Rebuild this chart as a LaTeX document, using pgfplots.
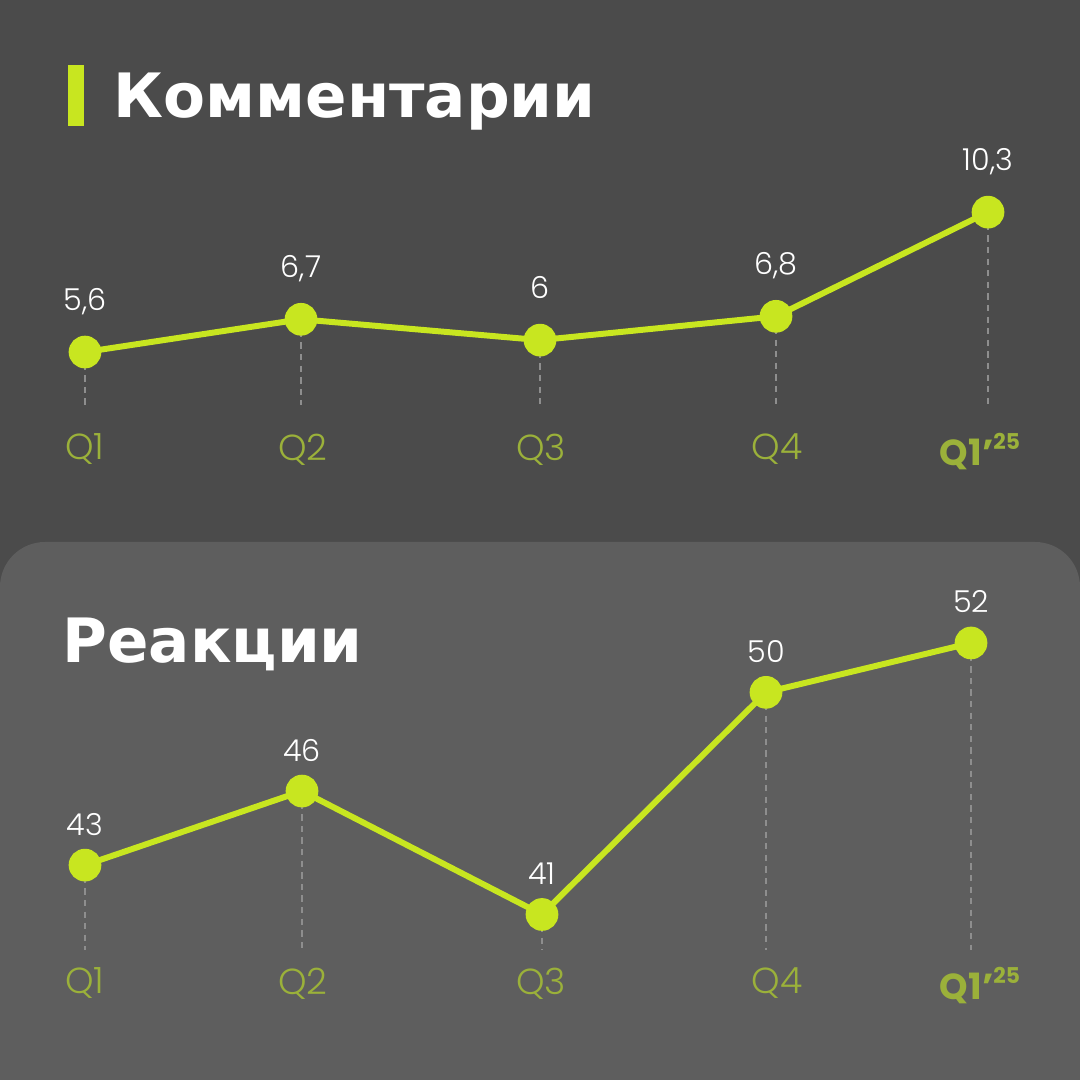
\documentclass[border=0pt]{standalone}
\usepackage{fontspec}
\setmainfont{DejaVu Sans}
\newfontfamily\titlefont{DejaVu Sans}
\newfontfamily\lightfont{Poppins Light}
\newfontfamily\boldq{Poppins Bold}
\usepackage{pgfplots}
\pgfplotsset{compat=1.18}

\definecolor{bgtop}{HTML}{4B4B4B}
\definecolor{panel}{HTML}{5E5E5E}
\definecolor{lime}{HTML}{C8E620}
\definecolor{olive}{HTML}{9BB13A}
\definecolor{dashgray}{HTML}{8E8E8E}

\pgfplotsset{
  qchart/.style={
    scale only axis, width=10.8cm, xmin=0, xmax=1080, clip=false,
    axis line style={draw=none}, tick style={draw=none},
    ytick=\empty,
    xtick={85,303,541,777,980},
    xticklabels={Q1,Q2,Q3,Q4,{\boldq Q1’\raisebox{0.42em}{\fontsize{6.2}{7}\selectfont 25}}},
    xticklabel style={font=\lightfont\fontsize{10.3}{12}\selectfont, text=olive,
      anchor=north, inner sep=0pt, yshift=-0.08cm},
    /pgf/number format/assume math mode=true,
    /pgf/number format/use comma,
  },
  qline/.style={lime, line width=1.7pt, mark=*, mark size=3.8pt,
    mark options={fill=lime, draw=lime},
    nodes near coords, every node near coord/.append style={
      font=\lightfont\fontsize{8.6}{10}\selectfont, text=white,
      anchor=base, inner sep=0pt}},
  qdash/.style={draw=dashgray, line width=0.4pt, dash pattern=on 1.8pt off 1.5pt, forget plot},
}

\begin{document}
\begin{tikzpicture}
\useasboundingbox (0,0) rectangle (10.8,10.8);
\fill[bgtop] (0,0) rectangle (10.8,10.8);
\fill[panel, rounded corners=0.45cm] (0,-1) rectangle (10.8,5.38);
\fill[lime] (0.68,9.54) rectangle (0.84,10.15);
\node[anchor=base west, inner sep=0, text=white,
  font=\titlefont\bfseries\fontsize{17.4}{20}\selectfont] at (1.13,9.62) {Комментарии};
\node[anchor=base west, inner sep=0, text=white,
  font=\titlefont\bfseries\fontsize{17.4}{20}\selectfont] at (0.62,4.17) {Реакции};

% Комментарии
\begin{axis}[qchart, at={(0,6.55cm)}, anchor=south west, height=2.75cm,
  ymin=3.149, ymax=12.389]
\addplot[qdash] coordinates {(85,5.6) (85,3.82)};
\addplot[qdash] coordinates {(301,6.7) (301,3.82)};
\addplot[qdash] coordinates {(540,6) (540,3.82)};
\addplot[qdash] coordinates {(776,6.8) (776,3.82)};
\addplot[qdash] coordinates {(988,10.3) (988,3.82)};
\addplot[qline, every node near coord/.append style={yshift=0.42cm}]
  coordinates {(85,5.6) (301,6.7) (540,6) (776,6.8) (988,10.3)};
\end{axis}

% Реакции
\begin{axis}[qchart, at={(0,1.21cm)}, anchor=south west, height=3.59cm,
  ymin=39.196, ymax=53.742]
\addplot[qdash] coordinates {(85,43) (85,39.56)};
\addplot[qdash] coordinates {(302,46) (302,39.56)};
\addplot[qdash] coordinates {(542,41) (542,39.56)};
\addplot[qdash] coordinates {(766,50) (766,39.56)};
\addplot[qdash] coordinates {(971,52) (971,39.56)};
\addplot[qline, every node near coord/.append style={yshift=0.3cm}]
  coordinates {(85,43) (302,46) (542,41) (766,50) (971,52)};
\end{axis}
\end{tikzpicture}
\end{document}
